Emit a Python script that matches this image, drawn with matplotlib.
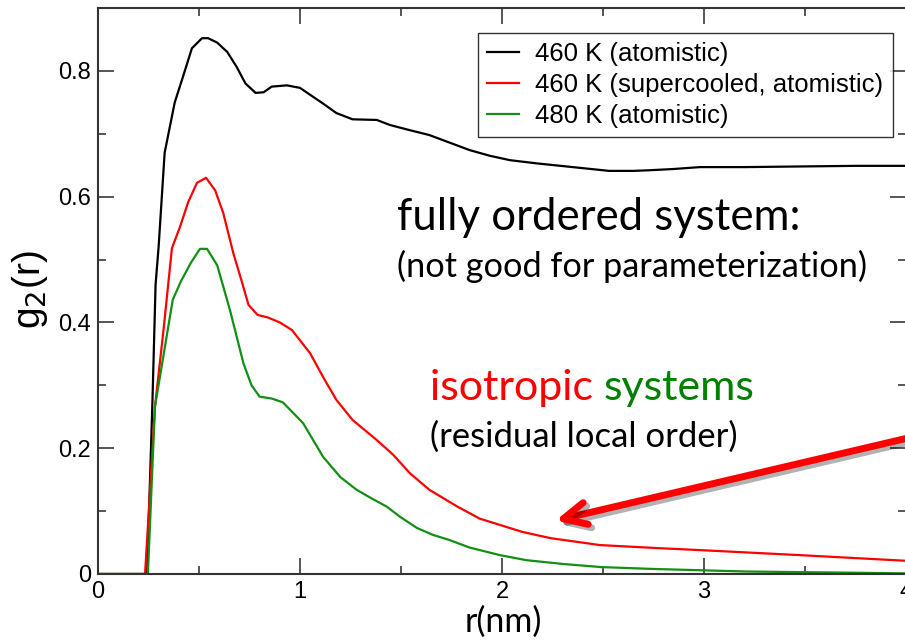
import matplotlib.pyplot as plt
import matplotlib.patheffects as pe

# g2(r) orientational correlation, atomistic runs
r_460 = [0, 0.243, 0.27, 0.285, 0.30, 0.33, 0.38, 0.415, 0.465, 0.515, 0.545, 0.59,
         0.64, 0.687, 0.73, 0.78, 0.82, 0.86, 0.935, 1.0, 1.05, 1.11, 1.18, 1.26,
         1.38, 1.445, 1.54, 1.64, 1.74, 1.84, 1.94, 2.04, 2.17, 2.29, 2.41, 2.53,
         2.65, 2.73, 2.85, 2.98, 3.2, 3.47, 3.75, 4.0]
g_460 = [0, 0, 0.28, 0.46, 0.52, 0.67, 0.75, 0.785, 0.836, 0.852, 0.852, 0.845,
         0.83, 0.806, 0.78, 0.765, 0.766, 0.775, 0.777, 0.773, 0.762, 0.749, 0.733, 0.723,
         0.722, 0.714, 0.706, 0.698, 0.686, 0.674, 0.665, 0.658, 0.653, 0.649, 0.645, 0.641,
         0.641, 0.642, 0.644, 0.647, 0.647, 0.648, 0.649, 0.649]

r_460sc = [0, 0.233, 0.282, 0.325, 0.366, 0.406, 0.446, 0.49, 0.535, 0.58, 0.62, 0.67,
           0.71, 0.745, 0.79, 0.84, 0.90, 0.96, 1.05, 1.12, 1.18, 1.26, 1.38, 1.46,
           1.545, 1.64, 1.78, 1.89, 1.99, 2.1, 2.24, 2.485, 2.78, 2.98, 3.475, 4.0]
g_460sc = [0, 0, 0.266, 0.39, 0.518, 0.552, 0.591, 0.622, 0.63, 0.61, 0.574, 0.51,
           0.467, 0.428, 0.412, 0.408, 0.40, 0.388, 0.351, 0.31, 0.277, 0.245, 0.213, 0.19,
           0.16, 0.134, 0.107, 0.088, 0.078, 0.067, 0.057, 0.046, 0.041, 0.038, 0.030, 0.021]

r_480 = [0, 0.247, 0.282, 0.37, 0.41, 0.46, 0.505, 0.54, 0.59, 0.653, 0.72, 0.76,
         0.80, 0.86, 0.915, 1.015, 1.115, 1.2, 1.28, 1.35, 1.43, 1.495, 1.58, 1.66,
         1.74, 1.84, 1.99, 2.12, 2.3, 2.49, 2.75, 2.98, 3.2, 3.47, 3.75, 4.0]
g_480 = [0, 0, 0.266, 0.436, 0.465, 0.495, 0.517, 0.517, 0.491, 0.42, 0.335, 0.30,
         0.282, 0.279, 0.273, 0.24, 0.186, 0.154, 0.134, 0.121, 0.107, 0.091, 0.073, 0.062,
         0.054, 0.042, 0.030, 0.022, 0.016, 0.011, 0.008, 0.006, 0.004, 0.003, 0.002, 0.001]

labels = ['460 K (atomistic)', '460 K (supercooled, atomistic)', '480 K (atomistic)']
colors = ['black', '#ff0000', '#138f13']

W, H = 905, 641


def fx(px):
    return px / W


def fy(py):
    return 1 - py / H


fig = plt.figure(figsize=(W / 100, H / 100), dpi=100)
ax = fig.add_axes([fx(98), fy(574), (906 - 98) / W, (574 - 8) / H])

for r, g, c, lab in zip([r_460, r_460sc, r_480], [g_460, g_460sc, g_480], colors, labels):
    ax.plot(r, g, color=c, lw=1.6, label=lab)

ax.set_xlim(0, 4)
ax.set_ylim(0, 0.9)
ax.set_xticks([0, 1, 2, 3, 4])
ax.set_xticks([0.5, 1.5, 2.5, 3.5], minor=True)
ax.set_yticks([0, 0.2, 0.4, 0.6, 0.8])
ax.set_yticks([0.1, 0.3, 0.5, 0.7], minor=True)
ax.set_yticklabels(['0', '0.2', '0.4', '0.6', '0.8'])
ax.tick_params(which='both', direction='in', top=True, right=True,
               color='#555555', width=1.4, labelsize=17, pad=5)
ax.tick_params(which='major', length=11.5)
ax.tick_params(which='minor', length=5.8)
for lbl in ax.get_xticklabels() + ax.get_yticklabels():
    lbl.set_family('Liberation Sans')
for s in ax.spines.values():
    s.set_color('#333333')
    s.set_linewidth(1.5)

fig.text(fx(30), fy(290), 'g$_2$(r)', fontsize=28, family='Liberation Sans',
         rotation=90, ha='center', va='center')
fig.text(fx(503), fy(622), 'r(nm)', fontsize=24.5, family='Lato',
         ha='center', va='center')

leg = ax.legend(loc='upper left', bbox_to_anchor=(fx(478), fy(33)),
                bbox_transform=fig.transFigure, borderaxespad=0,
                prop={'family': 'Liberation Sans', 'size': 18.5},
                frameon=True, fancybox=False, edgecolor='black',
                handlelength=1.25, handletextpad=0.62, labelspacing=0.26,
                borderpad=0.36)
leg.get_frame().set_linewidth(1.0)

# slide annotations
fig.text(fx(397), fy(230), 'fully ordered system:', fontsize=31.5, family='Lato',
         ha='left', va='baseline')
fig.text(fx(397), fy(277), '(not good for parameterization)', fontsize=24.7,
         family='Lato', ha='left', va='baseline')
t1 = fig.text(fx(430), fy(400), 'isotropic ', fontsize=31, family='Lato',
              color='#ff0000', ha='left', va='baseline')
fig.canvas.draw()
bb = t1.get_window_extent()
fig.text(bb.x1 / W, fy(400), 'systems', fontsize=31, family='Lato',
         color='#008000', ha='left', va='baseline')
fig.text(fx(430), fy(447), '(residual local order)', fontsize=24.9, family='Lato',
         ha='left', va='baseline')

ax.annotate('', xy=(2.252, 0.084), xytext=(4.06, 0.22),
            annotation_clip=False,
            arrowprops=dict(arrowstyle='->,head_length=1.65,head_width=0.8',
                            color='#ff0000', lw=5,
                            path_effects=[pe.SimpleLineShadow(offset=(2.5, -2.5), alpha=0.3),
                                          pe.Normal()]))

fig.savefig('out.png', dpi=100)
